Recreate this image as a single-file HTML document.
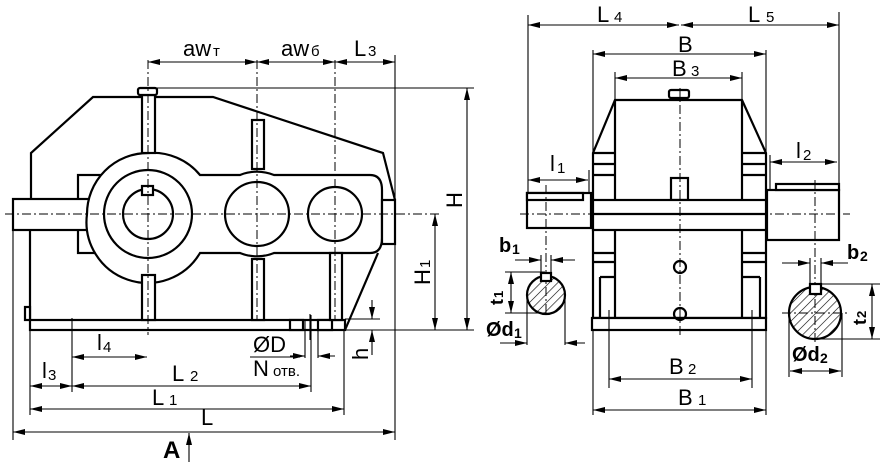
<!DOCTYPE html>
<html><head><meta charset="utf-8"><style>
html,body{margin:0;padding:0;background:#fff;}
svg{display:block;}
text{font-family:"Liberation Sans",sans-serif;fill:#000;}
.o{fill:none;stroke:#000;stroke-width:2.2;}
.w{fill:#fff;stroke:#000;stroke-width:2.2;}
.d{fill:none;stroke:#000;stroke-width:1.1;}
.c{fill:none;stroke:#000;stroke-width:1;stroke-dasharray:9 3 2 3;}
.a{fill:none;stroke:#000;stroke-width:1.1;marker-start:url(#s);marker-end:url(#e);}
.ae{fill:none;stroke:#000;stroke-width:1.1;marker-end:url(#e);}
.L{font-size:22px;}
.s{font-size:15px;}
</style></head><body>
<svg width="889" height="462" viewBox="0 0 889 462" xmlns="http://www.w3.org/2000/svg">
<defs>
<marker id="e" viewBox="0 0 12 6" refX="12" refY="3" markerWidth="12" markerHeight="6" markerUnits="userSpaceOnUse" orient="auto"><path d="M0,0 L12,3 L0,6 Z"/></marker>
<marker id="s" viewBox="0 0 12 6" refX="0" refY="3" markerWidth="12" markerHeight="6" markerUnits="userSpaceOnUse" orient="auto"><path d="M12,0 L0,3 L12,6 Z"/></marker>
<pattern id="h" width="6" height="6" patternUnits="userSpaceOnUse" patternTransform="rotate(45)"><line x1="0" y1="0" x2="0" y2="6" stroke="#000" stroke-width="1.2"/></pattern>
</defs>

<!-- ===== LEFT VIEW ===== -->
<path class="o" d="M31,200 L31,153 L93,97 L213,97 L383,153 L395,200"/>
<path class="o" d="M378,253 L345,330"/>
<path class="o" d="M30,230 L30,320"/>
<rect class="w" x="25" y="307" width="5" height="13"/>
<rect class="w" x="30" y="320" width="315" height="10"/>
<rect class="w" x="290" y="320" width="13" height="10"/>
<rect class="w" x="318" y="320" width="14" height="10"/>
<line class="d" x1="310" y1="314" x2="310" y2="340"/>
<line class="d" x1="305" y1="320" x2="305" y2="358"/>
<line class="d" x1="318" y1="320" x2="318" y2="358"/>
<rect class="w" x="78" y="175" width="40" height="78"/>
<rect class="w" x="13" y="199" width="80" height="31"/>
<path class="w" d="M148,153 A61,61 0 0 1 200,175 L240,175 A45,45 0 0 1 274,175 L370,175 Q382,175 382,190 L382,238 Q382,253 370,253 L274,253 A45,45 0 0 1 240,253 L200,253 A61,61 0 0 1 87,214 A61,61 0 0 1 148,153 Z"/>
<rect class="w" x="382" y="200" width="13" height="44"/>
<rect class="w" x="142" y="95" width="13" height="58"/>
<rect class="w" x="142" y="275" width="13" height="45"/>
<rect class="w" x="252" y="120" width="12" height="49"/>
<rect class="w" x="252" y="259" width="12" height="61"/>
<rect class="w" x="330" y="253" width="12" height="67"/>
<rect class="w" x="138" y="88" width="19" height="7" rx="2"/>
<circle class="o" cx="148" cy="214" r="44"/>
<circle class="o" cx="148" cy="214" r="25"/>
<rect class="w" x="142" y="186" width="11" height="9"/>
<circle class="o" cx="257" cy="214" r="32"/>
<circle class="o" cx="335" cy="214" r="27"/>
<line class="c" x1="5" y1="214" x2="440" y2="214"/>
<line class="c" x1="148" y1="60" x2="148" y2="335"/>
<line class="c" x1="257" y1="60" x2="257" y2="320"/>
<line class="c" x1="335" y1="60" x2="335" y2="320"/>
<line class="d" x1="395" y1="55" x2="395" y2="440"/>
<line class="a" x1="148" y1="62" x2="257" y2="62"/>
<line class="a" x1="257" y1="62" x2="335" y2="62"/>
<line class="a" x1="335" y1="62" x2="395" y2="62"/>
<text class="L" x="183" y="56">aw</text><text class="s" x="213" y="56">т</text>
<text class="L" x="281" y="56">aw</text><text class="s" x="311" y="56">б</text>
<text class="L" x="354" y="56">L</text><text class="s" x="368" y="56">3</text>
<line class="d" x1="157" y1="88" x2="474" y2="88"/>
<line class="d" x1="345" y1="330" x2="474" y2="330"/>
<line class="d" x1="345" y1="319" x2="380" y2="319"/>
<line class="a" x1="467" y1="88" x2="467" y2="330"/>
<line class="a" x1="435" y1="214" x2="435" y2="330"/>
<text class="L" transform="translate(462,208) rotate(-90)">H</text>
<text class="L" transform="translate(430,285) rotate(-90)">H</text>
<text class="s" transform="translate(430,268) rotate(-90)">1</text>
<line class="ae" x1="372" y1="300" x2="372" y2="319"/>
<line class="ae" x1="372" y1="355" x2="372" y2="330"/>
<text class="L" transform="translate(368,360) rotate(-90)">h</text>
<line class="d" x1="30" y1="330" x2="30" y2="415"/>
<line class="d" x1="13" y1="230" x2="13" y2="440"/>
<line class="d" x1="72" y1="318" x2="72" y2="392"/>
<line class="d" x1="311" y1="315" x2="311" y2="392"/>
<line class="d" x1="344" y1="330" x2="344" y2="415"/>
<line class="a" x1="72" y1="357" x2="147" y2="357"/>
<text class="L" x="97" y="350">l</text><text class="s" x="103" y="352">4</text>
<line class="a" x1="30" y1="386" x2="72" y2="386"/>
<text class="L" x="42" y="378">l</text><text class="s" x="48" y="380">3</text>
<line class="a" x1="72" y1="386" x2="311" y2="386"/>
<text class="L" x="172" y="381">L</text><text class="s" x="190" y="381">2</text>
<line class="a" x1="30" y1="409" x2="344" y2="409"/>
<text class="L" x="152" y="405">L</text><text class="s" x="169" y="405">1</text>
<line class="a" x1="13" y1="432" x2="395" y2="432"/>
<text class="L" x="201" y="425">L</text>
<line class="ae" x1="290" y1="356" x2="305" y2="356"/>
<line class="ae" x1="335" y1="356" x2="318" y2="356"/>
<text class="L" x="253" y="352">ØD</text>
<line class="d" x1="250" y1="357" x2="300" y2="357"/>
<text class="L" x="253" y="376">N</text><text class="s" x="273" y="376">отв.</text>
<text x="163" y="458" style="font-size:24px;font-weight:bold;">A</text>
<line class="ae" x1="189" y1="462" x2="189" y2="433"/>

<!-- ===== RIGHT VIEW ===== -->
<line class="d" x1="528" y1="15" x2="528" y2="200"/>
<line class="d" x1="839" y1="12" x2="839" y2="190"/>
<line class="d" x1="593" y1="50" x2="593" y2="415"/>
<line class="d" x1="766" y1="50" x2="766" y2="415"/>
<line class="d" x1="615" y1="72" x2="615" y2="100"/>
<line class="d" x1="742" y1="72" x2="742" y2="100"/>
<line class="a" x1="528" y1="25" x2="679" y2="25"/>
<line class="a" x1="681" y1="25" x2="839" y2="25"/>
<text class="L" x="597" y="22">L</text><text class="s" x="614" y="22">4</text>
<text class="L" x="748" y="22">L</text><text class="s" x="766" y="22">5</text>
<line class="a" x1="593" y1="54" x2="766" y2="54"/>
<text class="L" x="678" y="52">B</text>
<line class="a" x1="615" y1="78" x2="742" y2="78"/>
<text class="L" x="672" y="76">B</text><text class="s" x="691" y="76">3</text>
<path class="w" d="M615,100 L742,100 L766,153 L766,318 L593,318 L593,153 Z"/>
<path class="o" d="M615,100 L615,318 M742,100 L742,318"/>
<path class="o" d="M593,153 L615,153 M742,153 L766,153"/>
<path class="o" d="M593,164 L615,164 M742,164 L766,164 M593,175 L615,175 M742,175 L766,175"/>
<path class="o" d="M593,253 L615,253 M742,253 L766,253 M593,262 L615,262 M742,262 L766,262"/>
<path class="o" d="M600,277 L615,277 M742,277 L760,277 M600,277 L600,318 M760,277 L760,318"/>
<rect class="w" x="592" y="318" width="174" height="12"/>
<rect class="w" x="669" y="90" width="20" height="8" rx="2"/>
<rect class="w" x="671" y="178" width="17" height="22"/>
<rect class="w" x="593" y="200" width="173" height="30"/>
<line class="o" x1="593" y1="214" x2="766" y2="214"/>
<rect class="w" x="527" y="193" width="64" height="35"/>
<rect class="w" x="527" y="193" width="56" height="7"/>
<rect class="w" x="767" y="190" width="72" height="50"/>
<rect class="w" x="776" y="184" width="63" height="6"/>
<circle class="o" cx="680" cy="267" r="6"/>
<circle class="o" cx="680" cy="314" r="6"/>
<line class="c" x1="680" y1="88" x2="680" y2="336"/>
<line class="c" x1="520" y1="214" x2="850" y2="214"/>
<line class="d" x1="609" y1="310" x2="609" y2="388"/>
<line class="d" x1="752" y1="310" x2="752" y2="388"/>
<line class="a" x1="609" y1="379" x2="752" y2="379"/>
<text class="L" x="669" y="374">B</text><text class="s" x="688" y="374">2</text>
<line class="a" x1="593" y1="410" x2="766" y2="410"/>
<text class="L" x="678" y="405">B</text><text class="s" x="698" y="405">1</text>
<line class="d" x1="589" y1="170" x2="589" y2="193"/>
<line class="a" x1="528" y1="180" x2="588" y2="180"/>
<text class="L" x="550" y="171">l</text><text class="s" x="557" y="173">1</text>
<line class="d" x1="770" y1="155" x2="770" y2="190"/>
<line class="a" x1="770" y1="162" x2="837" y2="162"/>
<text class="L" x="796" y="158">l</text><text class="s" x="803" y="160">2</text>
<line class="c" x1="546" y1="185" x2="546" y2="315"/>
<circle cx="546" cy="295" r="19" fill="url(#h)" stroke="#000" stroke-width="2.2"/>
<rect class="w" x="541" y="273" width="10" height="8"/>
<line class="d" x1="541" y1="255" x2="541" y2="275"/>
<line class="d" x1="551" y1="255" x2="551" y2="275"/>
<line class="ae" x1="515" y1="260" x2="541" y2="260"/>
<line class="ae" x1="575" y1="260" x2="551" y2="260"/>
<text x="499" y="252" style="font-size:20px;font-weight:bold;">b</text><text x="512" y="254" style="font-size:14px;font-weight:bold;">1</text>
<line class="d" x1="505" y1="272" x2="545" y2="272"/>
<line class="d" x1="505" y1="313" x2="545" y2="313"/>
<line class="a" x1="511" y1="272" x2="511" y2="313"/>
<text transform="translate(503,305) rotate(-90)" style="font-size:18px;font-weight:bold;">t</text><text transform="translate(503,298) rotate(-90)" style="font-size:13px;font-weight:bold;">1</text>
<line class="d" x1="527" y1="298" x2="527" y2="345"/>
<line class="d" x1="565" y1="298" x2="565" y2="345"/>
<line class="ae" x1="500" y1="343" x2="527" y2="343"/>
<line class="ae" x1="585" y1="343" x2="565" y2="343"/>
<text x="486" y="336" style="font-size:20px;font-weight:bold;">Ød</text><text x="514" y="338" style="font-size:14px;font-weight:bold;">1</text>
<line class="c" x1="815" y1="180" x2="815" y2="345"/>
<line class="c" x1="782" y1="313" x2="850" y2="313"/>
<circle cx="815" cy="313" r="26" fill="url(#h)" stroke="#000" stroke-width="2.2"/>
<rect class="w" x="810" y="284" width="11" height="10"/>
<line class="d" x1="810" y1="258" x2="810" y2="286"/>
<line class="d" x1="821" y1="258" x2="821" y2="286"/>
<line class="ae" x1="782" y1="263" x2="810" y2="263"/>
<line class="ae" x1="848" y1="263" x2="821" y2="263"/>
<text x="847" y="259" style="font-size:20px;font-weight:bold;">b</text><text x="860" y="261" style="font-size:14px;font-weight:bold;">2</text>
<line class="d" x1="821" y1="284" x2="880" y2="284"/>
<line class="d" x1="815" y1="339" x2="880" y2="339"/>
<line class="a" x1="872" y1="284" x2="872" y2="339"/>
<text transform="translate(866,325) rotate(-90)" style="font-size:18px;font-weight:bold;">t</text><text transform="translate(866,318) rotate(-90)" style="font-size:13px;font-weight:bold;">2</text>
<line class="d" x1="789" y1="313" x2="789" y2="377"/>
<line class="d" x1="842" y1="313" x2="842" y2="377"/>
<line class="a" x1="790" y1="371" x2="841" y2="371"/>
<text x="792" y="361" style="font-size:20px;font-weight:bold;">Ød</text><text x="820" y="363" style="font-size:14px;font-weight:bold;">2</text>
</svg>
</body></html>
